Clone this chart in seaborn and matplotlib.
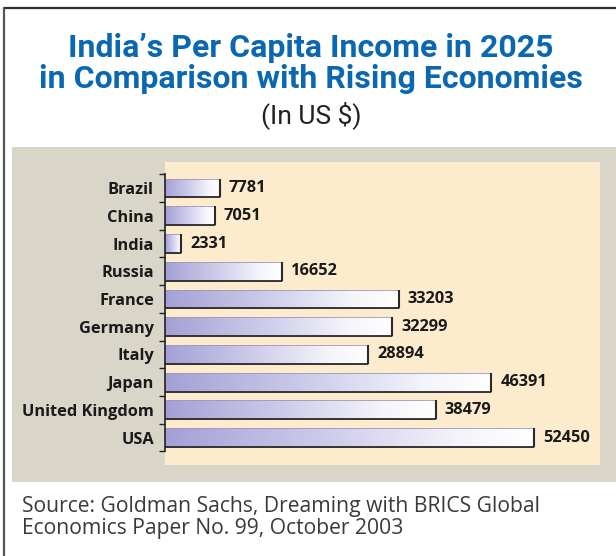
import numpy as np
import pandas as pd
import matplotlib
matplotlib.use("Agg")
import matplotlib.pyplot as plt
import seaborn as sns
from matplotlib.colors import LinearSegmentedColormap
from matplotlib.patches import Rectangle
from matplotlib.lines import Line2D

# Per capita income projections for 2025 (US $)
countries = ["Brazil", "China", "India", "Russia", "France", "Germany",
             "Italy", "Japan", "United Kingdom", "USA"]
income_2025 = [7781, 7051, 2331, 16652, 33203, 32299, 28894, 46391, 38479, 52450]

title_lines = ["India\u2019s Per Capita Income in 2025",
               "in Comparison with Rising Economies"]
subtitle = "(In US $)"
source_lines = ["Source: Goldman Sachs, Dreaming with BRICS Global",
                "Economics Paper No. 99, October 2003"]

df = pd.DataFrame({"country": countries, "income": income_2025})

W, H = 616, 556
sns.set_theme(style="white")
fig = plt.figure(figsize=(W / 100, H / 100), dpi=100)
fig.patch.set_facecolor("white")


def fx(px):
    return px / W


def fy(py):
    return 1 - py / H


TITLE_FONT = ["Roboto", "DejaVu Sans"]
LABEL_FONT = ["Open Sans", "DejaVu Sans"]
NOTE_FONT = ["Open Sans", "DejaVu Sans"]

# outer frame (top and left rules)
fig.add_artist(Line2D([fx(4), 1], [fy(8), fy(8)], transform=fig.transFigure,
                      color="#2e2e2e", lw=1.6))
fig.add_artist(Line2D([fx(4), fx(4)], [fy(8), 0], transform=fig.transFigure,
                      color="#555555", lw=1.6))

# grey backing panel
fig.add_artist(Rectangle((fx(12), fy(482)), 1 - fx(12), (482 - 147) / H,
                         transform=fig.transFigure, facecolor="#d9d5c9",
                         edgecolor="none", zorder=0))

# chart area
ax = fig.add_axes([fx(165), fy(465), fx(435), (465 - 162) / H])
ax.set_facecolor("#fdebcd")

sns.barplot(data=df, x="income", y="country", orient="h", ax=ax,
            width=0.68, color="white", saturation=1, zorder=2)

bar_cmap = LinearSegmentedColormap.from_list(
    "bar_fade", [(0.0, "#a4a0d6"), (0.45, "#cfcdeb"),
                 (0.8, "#f4f4fb"), (1.0, "#ffffff")])
grad = np.linspace(0, 1, 256).reshape(1, -1)

for patch in list(ax.patches):
    x, y = patch.get_x(), patch.get_y()
    w, h = patch.get_width(), patch.get_height()
    im = ax.imshow(grad, extent=[x, x + w, y + h, y], cmap=bar_cmap,
                   aspect="auto", interpolation="bicubic", zorder=2.5)
    im.set_clip_path(patch)
    patch.set_facecolor("none")
    patch.set_edgecolor("#9a98b8")
    patch.set_linewidth(0.6)
    patch.set_zorder(3)
    # drop-shadow style edges on right and bottom
    ax.plot([x + w, x + w], [y, y + h], color="#2a2a2a", lw=1.5,
            solid_capstyle="butt", zorder=4)
    ax.plot([x, x + w], [y + h, y + h], color="#2a2a2a", lw=1.3,
            solid_capstyle="butt", zorder=4)

for i, v in enumerate(income_2025):
    ax.annotate(f"{v}", xy=(v, i), xytext=(6.5, 0), textcoords="offset points",
                va="center", ha="left", fontsize=11.8, fontweight="bold",
                family=LABEL_FONT, color="#1a1a1a", zorder=5)

ax.set_xlim(0, 435 / (369 / 52450))
ax.set_ylim(9.99, -0.94)
ax.set_xlabel("")
ax.set_ylabel("")
ax.set_xticks([])

for s in ["top", "right", "bottom"]:
    ax.spines[s].set_visible(False)
ax.spines["left"].set_color("#222222")
ax.spines["left"].set_linewidth(1.2)
ax.spines["left"].set_bounds(-0.5, len(countries) - 0.5)
ax.spines["left"].set_zorder(5)

ax.set_yticks(np.arange(-0.5, len(countries), 1), minor=True)
ax.tick_params(axis="y", which="minor", length=4, width=1, color="#222222",
               direction="out", left=True)
ax.tick_params(axis="y", which="major", length=0, pad=8)
for lbl in ax.get_yticklabels():
    lbl.set_family(LABEL_FONT)
    lbl.set_fontweight("bold")
    lbl.set_fontsize(11.8)
    lbl.set_color("#1a1a1a")

# headings
fig.text(fx(311), fy(57), title_lines[0], ha="center", va="baseline",
         fontsize=23, fontweight="bold", family=TITLE_FONT, color="#0a67b2")
fig.text(fx(311), fy(88), title_lines[1], ha="center", va="baseline",
         fontsize=23, fontweight="bold", family=TITLE_FONT, color="#0a67b2")
fig.text(fx(311), fy(123), subtitle, ha="center", va="baseline",
         fontsize=19, family=TITLE_FONT, color="#222222")

# source note
fig.text(fx(22), fy(512), source_lines[0], ha="left", va="baseline",
         fontsize=15.2, family=NOTE_FONT, color="#3a3a3a")
fig.text(fx(22), fy(534), source_lines[1], ha="left", va="baseline",
         fontsize=15.2, family=NOTE_FONT, color="#3a3a3a")

fig.savefig("out.png", dpi=100, facecolor=fig.get_facecolor())
